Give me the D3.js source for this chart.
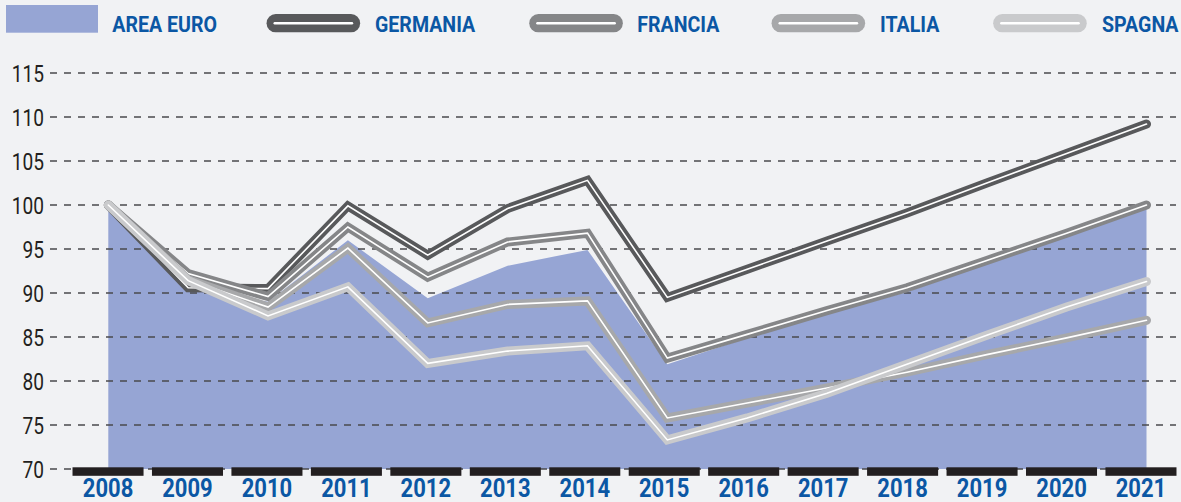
<!DOCTYPE html>
<html>
<head>
<meta charset="utf-8">
<script src="https://cdn.jsdelivr.net/npm/d3@7"></script>
<style>
  html, body { margin: 0; padding: 0; background: #f1f2f4; }
  svg { display: block; }
</style>
</head>
<body>
<svg id="chart" width="1181" height="502"></svg>
<script>
const years = ["2008","2009","2010","2011","2012","2013","2014","2015","2016","2017","2018","2019","2020","2021"];
const areaEuro = [100, 90.6, 89.0, 96.0, 89.4, 93.1, 94.9, 81.9, 84.9, 87.6, 90.1, 93.3, 96.4, 99.6];
const germania = [100, 90.6, 90.5, 99.9, 94.3, 99.6, 102.8, 89.5, 92.7, 95.9, 99.1, 102.5, 105.85, 109.2];
const francia  = [100, 92.2, 89.6, 97.5, 91.8, 95.8, 96.8, 82.6, 85.3, 88.0, 90.6, 93.7, 96.8, 100.0];
const italia   = [100, 91.5, 88.4, 95.1, 86.6, 88.7, 89.1, 75.8, 77.5, 79.2, 81.0, 83.0, 84.9, 86.9];
const spagna   = [100, 91.4, 87.4, 90.7, 82.0, 83.4, 84.0, 73.3, 75.8, 78.6, 81.9, 85.2, 88.4, 91.3];
const yTicks = [70, 75, 80, 85, 90, 95, 100, 105, 110, 115];
const seriesNames = ["GERMANIA", "FRANCIA", "ITALIA", "SPAGNA"];
const areaName = "AREA EURO";

const colors = {
  bg: "#f1f2f4", area: "#96a5d4", grid: "#4a4a4c", bar: "#231f20",
  label: "#0b57a4", ytext: "#231f20",
  GERMANIA: "#58595b", FRANCIA: "#858688", ITALIA: "#a7a8aa", SPAGNA: "#c9cacc"
};
const seriesData = { GERMANIA: germania, FRANCIA: francia, ITALIA: italia, SPAGNA: spagna };

const svg = d3.select("#chart");
svg.append("rect").attr("width", 1181).attr("height", 502).attr("fill", colors.bg);

const y = d3.scaleLinear().domain([70, 115]).range([469, 73]);
const xLine = d3.scalePoint().domain(years).range([108.3, 1146.5]);
const xBand = d3.scaleBand().domain(years).range([68.3, 1180.7]).paddingInner(0.106).paddingOuter(0.053);

// area
const areaGen = d3.area().x((d, i) => xLine(years[i])).y0(y(70)).y1(d => y(d));
svg.append("path").datum(areaEuro).attr("d", areaGen).attr("fill", colors.area);

// gridlines
const grid = svg.append("g");
grid.selectAll("line").data(yTicks).join("line")
  .attr("x1", 50).attr("x2", 1176)
  .attr("y1", d => y(d)).attr("y2", d => y(d))
  .attr("stroke", colors.grid).attr("stroke-width", 1.3)
  .attr("stroke-dasharray", "7,7");

// y labels
svg.append("g").selectAll("text").data(yTicks).join("text")
  .attr("transform", d => `translate(44,${y(d) + 8.5}) scale(0.78,1)`)
  .attr("text-anchor", "end")
  .attr("font-family", "Roboto, 'Liberation Sans', sans-serif")
  .attr("font-size", 24.5)
  .attr("fill", colors.ytext)
  .text(d => d);

// lines
const lineGen = d3.line().x((d, i) => xLine(years[i])).y(d => y(d));
const lines = svg.append("g");
seriesNames.forEach(name => {
  lines.append("path").datum(seriesData[name]).attr("d", lineGen)
    .attr("fill", "none").attr("stroke", colors[name]).attr("stroke-width", 9)
    .attr("stroke-linecap", "round").attr("stroke-linejoin", "miter");
  lines.append("path").datum(seriesData[name]).attr("d", lineGen)
    .attr("fill", "none").attr("stroke", "#ffffff").attr("stroke-width", 1.6)
    .attr("stroke-linecap", "round").attr("stroke-linejoin", "miter");
});

// bottom bars
svg.append("g").selectAll("rect").data(years).join("rect")
  .attr("x", d => xBand(d)).attr("width", xBand.bandwidth())
  .attr("y", 467.3).attr("height", 8.5)
  .attr("fill", colors.bar);

// x labels
svg.append("g").selectAll("text").data(years).join("text")
  .attr("transform", d => `translate(${xBand(d) + xBand.bandwidth() / 2},497.3) scale(0.87,1)`)
  .attr("text-anchor", "middle")
  .attr("font-family", "Roboto, 'Liberation Sans', sans-serif")
  .attr("font-weight", 700)
  .attr("font-size", 25.3)
  .attr("fill", colors.label)
  .text(d => d);

// legend
const legend = svg.append("g");
legend.append("rect").attr("x", 6).attr("y", 5).attr("width", 92).attr("height", 27.7).attr("fill", colors.area);
const legendItems = [
  { name: areaName, tx: 112.3 },
  { name: "GERMANIA", px: 266.7, tx: 375 },
  { name: "FRANCIA", px: 529.4, tx: 637.3 },
  { name: "ITALIA", px: 771.7, tx: 880 },
  { name: "SPAGNA", px: 993.3, tx: 1102 }
];
legendItems.forEach(it => {
  if (it.px !== undefined) {
    legend.append("line").attr("x1", it.px + 9).attr("x2", it.px + 93.3 - 9)
      .attr("y1", 23.2).attr("y2", 23.2)
      .attr("stroke", colors[it.name]).attr("stroke-width", 18.3).attr("stroke-linecap", "round");
    legend.append("line").attr("x1", it.px + 8).attr("x2", it.px + 93.3 - 8)
      .attr("y1", 23.2).attr("y2", 23.2)
      .attr("stroke", "#ffffff").attr("stroke-width", 2.4).attr("stroke-linecap", "round");
  }
  legend.append("text")
    .attr("transform", `translate(${it.tx},32.3) scale(0.87,1)`)
    .attr("font-family", "Roboto, 'Liberation Sans', sans-serif")
    .attr("font-weight", 700)
    .attr("font-size", 22.5)
    .attr("fill", colors.label)
    .text(it.name);
});
</script>
</body>
</html>
